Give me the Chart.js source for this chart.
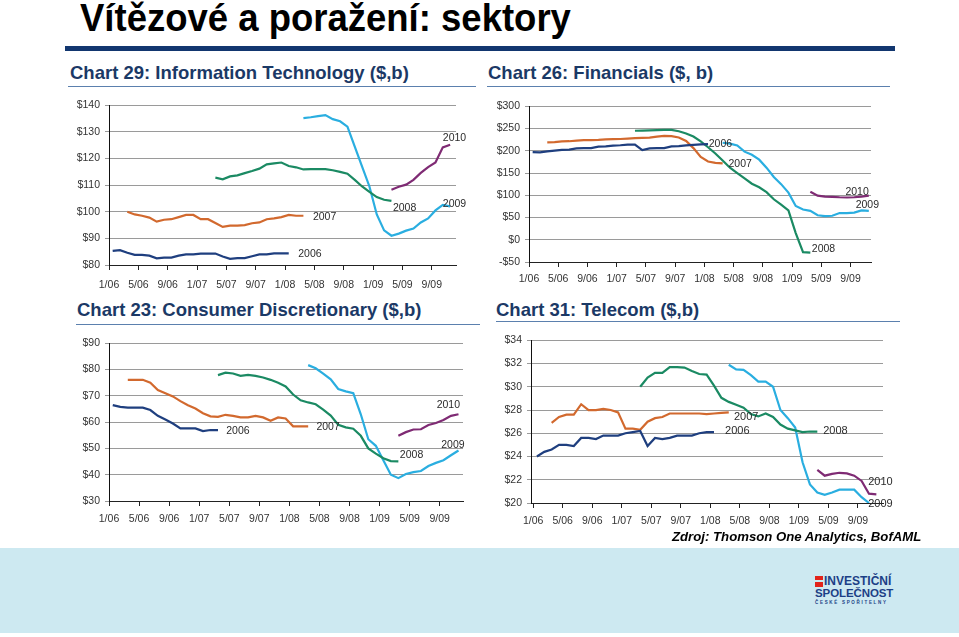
<!DOCTYPE html>
<html>
<head>
<meta charset="utf-8">
<script src="https://cdn.jsdelivr.net/npm/chart.js@4.4.0/dist/chart.umd.min.js"></script>
<style>
  body { margin: 0; width: 959px; height: 637px; position: relative; background: #fff; overflow: hidden;
    font-family: 'Liberation Sans', Arial, sans-serif; }
  .abs { position: absolute; }
  #title { left: 80px; top: -3px; font-family: 'Liberation Sans', Arial, sans-serif;
    font-weight: bold; font-size: 36.5px; line-height: 40px; color: #000; white-space: nowrap;
    transform: scaleY(1.06); transform-origin: left top; }
  #titleBar { left: 65px; top: 46px; width: 830px; height: 5px; background: #12366f; }
  .ctitle { font-weight: bold; font-size: 18.5px; color: #1b3966; white-space: nowrap; line-height: 22px; }
  .cline { height: 1px; background: #5b80ae; }
  #band { left: 0; top: 548px; width: 959px; height: 85px; background: #cde9f1; }
  #src { left: 672px; top: 529px; font-weight: bold; font-style: italic; font-size: 13.2px; color: #000; white-space: nowrap; }
  .logo { font-weight: bold; color: #1c3f86; white-space: nowrap; }
</style>
</head>
<body>
<div id="title" class="abs">Vítězové a poražení: sektory</div>
<div id="titleBar" class="abs"></div>

<div class="abs ctitle" style="left:70px;top:62px">Chart 29: Information Technology ($,b)</div>
<div class="abs cline" style="left:68px;top:86px;width:408px"></div>
<div class="abs ctitle" style="left:488px;top:62px">Chart 26: Financials ($, b)</div>
<div class="abs cline" style="left:487px;top:86px;width:403px"></div>
<div class="abs ctitle" style="left:77px;top:299px">Chart 23: Consumer Discretionary ($,b)</div>
<div class="abs cline" style="left:76px;top:324px;width:404px"></div>
<div class="abs ctitle" style="left:496px;top:299px">Chart 31: Telecom ($,b)</div>
<div class="abs cline" style="left:496px;top:321px;width:404px"></div>

<canvas id="chartIT" class="abs" style="left:60px;top:94px" width="420" height="201"></canvas>
<canvas id="chartFin" class="abs" style="left:480px;top:95px" width="420" height="197"></canvas>
<canvas id="chartCD" class="abs" style="left:60px;top:332px" width="420" height="199"></canvas>
<canvas id="chartTel" class="abs" style="left:481px;top:329px" width="428" height="204"></canvas>

<div id="band" class="abs"></div>
<div id="src" class="abs">Zdroj: Thomson One Analytics, BofAML</div>
<div class="abs" style="left:815px;top:576px;width:8px;height:11px;background:#e2231a"></div>
<div class="abs" style="left:815px;top:580px;width:8px;height:2px;background:#cde9f1"></div>
<div class="abs logo" style="left:824px;top:574px;font-size:12px;letter-spacing:0px">INVESTIČNÍ</div>
<div class="abs logo" style="left:815px;top:587px;font-size:11.5px;letter-spacing:-0.1px">SPOLEČNOST</div>
<div class="abs logo" style="left:815px;top:600px;font-size:4.5px;letter-spacing:1.7px">ČESKÉ SPOŘITELNY</div>

<script>
// x axis: months since 1/06
const tickLabels = ['1/06', '5/06', '9/06', '1/07', '5/07', '9/07', '1/08', '5/08', '9/08', '1/09', '5/09', '9/09']
const seriesYears = ['2006', '2007', '2008', '2009', '2010']
const seriesStart = [0.5, 2.5, 14.5, 26.5, 38.5]
const seriesColors = ['#1f3f7f', '#d2692e', '#1b8a63', '#2aaee0', '#7f2b74']

///////////////////////////////////////////
// Information Technology
///////////////////////////////////////////
const it2006 = [85.3, 85.6, 84.6, 83.8, 83.8, 83.5, 82.5, 82.8, 82.8, 83.5, 84.0, 84.0, 84.3, 84.3, 84.3, 83.2, 82.3, 82.6, 82.6, 83.3, 84.0, 84.0, 84.4, 84.4, 84.4]
const it2007 = [100, 99, 98.5, 97.8, 96.3, 97, 97.2, 98, 98.8, 98.8, 97.2, 97.2, 95.8, 94.3, 94.8, 94.8, 95, 95.7, 96, 97.2, 97.5, 98, 98.8, 98.5, 98.5]
const it2008 = [112.8, 112.2, 113.3, 113.7, 114.5, 115.3, 116.2, 117.8, 118.2, 118.5, 117.2, 116.7, 115.9, 116, 116, 116, 115.6, 115, 114.3, 112, 109.5, 107.5, 105.5, 104.5, 104.1]
const it2009 = [135.2, 135.5, 135.9, 136.3, 134.8, 134, 132, 124.5, 117, 109.5, 99, 93, 91, 91.8, 92.9, 93.7, 96, 97.5, 100.5, 102.6, 102]
const it2010 = [108.3, 109.4, 110.2, 112, 114.6, 116.8, 118.5, 124.2, 125.2]

///////////////////////////////////////////
// Financials
///////////////////////////////////////////
const fin2006 = [197, 196.5, 198.5, 200.5, 202, 202.5, 205.5, 206, 206, 209.5, 210, 211.5, 212.5, 214, 214, 201.5, 205.5, 206, 206, 210, 210.5, 212, 213.5, 214.5, 215]
const fin2007 = [219, 219.5, 221, 221.5, 223, 224, 224, 224.5, 225.5, 226, 226.5, 227.5, 228.5, 229, 229.5, 232, 233.5, 233, 230, 222, 206, 186, 176, 173, 171.5]
const fin2008 = [245, 245.5, 246, 246.5, 247, 247, 244, 239, 232, 221, 208, 194, 178, 162, 150, 138, 126, 118, 107, 91, 79, 66, 15, -28, -29]
const fin2009 = [218, 216, 212, 198, 191, 180, 162, 141, 125, 106, 76, 68, 65, 55, 53, 54, 60, 60, 61, 66, 65]
const fin2010 = [108, 99, 97, 96.5, 95.5, 95, 95.5, 97, 99]

///////////////////////////////////////////
// Consumer Discretionary
///////////////////////////////////////////
const cd2006 = [66.5, 65.8, 65.5, 65.5, 65.5, 64.6, 62.4, 61, 59.5, 57.6, 57.6, 57.6, 56.6, 57, 57]
const cd2007 = [76.1, 76.1, 76.1, 75, 72.2, 71, 69.8, 68, 66.4, 65.2, 63.4, 62.2, 62, 62.8, 62.4, 61.8, 61.8, 62.4, 61.8, 60.5, 61.8, 61.4, 58.4, 58.4, 58.4]
const cd2008 = [77.9, 78.8, 78.5, 77.6, 78, 77.6, 77, 76.1, 75, 73.6, 70.5, 68.3, 67.5, 66.8, 64.8, 62.5, 59, 58, 57.5, 54.8, 50, 48, 46.3, 45.2, 45.1]
const cd2009 = [81.7, 80.5, 78.5, 76.3, 72.6, 71.7, 71, 63, 53.5, 51, 45.5, 40, 38.7, 40.3, 41, 41.4, 43.3, 44.5, 45.5, 47.4, 49.2]
const cd2010 = [54.8, 56.2, 57.2, 57.3, 58.9, 59.7, 60.8, 62.4, 63]

///////////////////////////////////////////
// Telecom
///////////////////////////////////////////
const tel2006 = [24, 24.4, 24.6, 25, 25, 24.9, 25.6, 25.6, 25.5, 25.8, 25.8, 25.8, 26, 26.1, 26.2, 24.9, 25.6, 25.5, 25.6, 25.8, 25.8, 25.8, 26, 26.1, 26.1]
const tel2007 = [26.9, 27.4, 27.6, 27.6, 28.5, 28, 28, 28.1, 28, 27.8, 26.4, 26.4, 26.3, 27, 27.3, 27.4, 27.7, 27.7, 27.7, 27.7, 27.7, 27.65, 27.7, 27.75, 27.8]
const tel2008 = [30, 30.8, 31.2, 31.2, 31.7, 31.7, 31.65, 31.35, 31.1, 31.05, 30.1, 29.05, 28.7, 28.45, 28.2, 27.65, 27.45, 27.7, 27.4, 26.75, 26.4, 26.25, 26.1, 26.15, 26.15]
const tel2009 = [31.9, 31.5, 31.45, 31, 30.45, 30.45, 30, 28, 27.3, 26.5, 23.5, 21.6, 20.9, 20.7, 20.9, 21.15, 21.15, 21.15, 20.5, 20]
const tel2010 = [22.85, 22.35, 22.5, 22.6, 22.55, 22.35, 21.9, 20.8, 20.75]

// year names written next to the lines
const yearLabelPlugin = {
  id: 'yearLabels',
  afterDatasetsDraw(chart, args, opts) {
    const { ctx } = chart
    const x = chart.scales.x
    const y = chart.scales.y
    ctx.save()
    ctx.font = opts.size + 'px "Liberation Sans", Arial, sans-serif'
    ctx.fillStyle = '#2b2b2b'
    ctx.textBaseline = 'middle'
    opts.pos.forEach((p, i) => {
      ctx.fillText(seriesYears[i], x.getPixelForValue(p[0]), y.getPixelForValue(p[1]))
    })
    ctx.restore()
  },
}

const money = (v) => (v < 0 ? '-$' + -v : '$' + v)

function makeChart(id, series, o) {
  const datasets = series.map((vals, i) => ({
    data: vals.map((v, k) => ({ x: seriesStart[i] + k, y: v })),
    borderColor: seriesColors[i],
    borderWidth: 2.2,
    pointRadius: 0,
    tension: 0,
    fill: false,
  }))
  return new Chart(document.getElementById(id), {
    type: 'line',
    data: { datasets },
    plugins: [yearLabelPlugin],
    options: {
      responsive: false,
      animation: false,
      layout: { padding: { top: 10, right: o.padRight, left: 0, bottom: 0 } },
      scales: {
        x: {
          type: 'linear',
          min: o.xMin,
          max: o.xMax,
          afterBuildTicks: (scale) => {
            scale.ticks = tickLabels.map((t, i) => ({ value: i * 4 }))
          },
          afterFit: (scale) => {
            scale.height = 30
          },
          ticks: {
            autoSkip: false,
            maxRotation: 0,
            padding: o.xPad,
            color: '#333',
            font: { size: 10.5, family: '"Liberation Sans", Arial, sans-serif' },
            callback: (v) => tickLabels[Math.round(v / 4)],
          },
          grid: { drawOnChartArea: false, tickLength: 5, color: '#222' },
          border: { color: '#222', width: 1 },
        },
        y: {
          min: o.yMin,
          max: o.yMax,
          afterFit: (scale) => {
            scale.width = o.yWidth
          },
          ticks: {
            stepSize: o.yStep,
            padding: 5,
            color: '#333',
            font: { size: 10.5, family: '"Liberation Sans", Arial, sans-serif' },
            callback: money,
          },
          grid: { color: '#9a9a9a', tickLength: 4 },
          border: { color: '#111', width: 1 },
        },
      },
      plugins: {
        legend: { display: false },
        tooltip: { enabled: false },
        yearLabels: { pos: o.labelPos, size: o.labelSize },
      },
    },
  })
}

makeChart('chartIT', [it2006, it2007, it2008, it2009, it2010], {
  xMin: 0, xMax: 47.3, yMin: 80, yMax: 140, yStep: 10, yWidth: 49, padRight: 24, xPad: 9, labelSize: 10.5,
  labelPos: [[25.8, 84], [27.8, 98], [38.7, 101.4], [45.5, 102.7], [45.5, 127.7]],
})
makeChart('chartFin', [fin2006, fin2007, fin2008, fin2009, fin2010], {
  xMin: 0, xMax: 46.8, yMin: -50, yMax: 300, yStep: 50, yWidth: 49, padRight: 29, xPad: 6, labelSize: 10.5,
  labelPos: [[24.6, 216], [27.3, 169], [38.7, -21.8], [44.7, 78.5], [43.3, 108]],
})
makeChart('chartCD', [cd2006, cd2007, cd2008, cd2009, cd2010], {
  xMin: 0, xMax: 47.1, yMin: 30, yMax: 90, yStep: 10, yWidth: 49, padRight: 17, xPad: 7, labelSize: 10.5,
  labelPos: [[15.6, 56.7], [27.6, 58], [38.7, 47.5], [44.2, 51.4], [43.6, 66.6]],
})
makeChart('chartTel', [tel2006, tel2007, tel2008, tel2009, tel2010], {
  xMin: -0.3, xMax: 47.4, yMin: 20, yMax: 34, yStep: 2, yWidth: 50, padRight: 26, xPad: 7, labelSize: 11,
  labelPos: [[26, 26.17], [27.2, 27.4], [39.3, 26.17], [45.4, 19.9], [45.4, 21.85]],
})
</script>
</body>
</html>
